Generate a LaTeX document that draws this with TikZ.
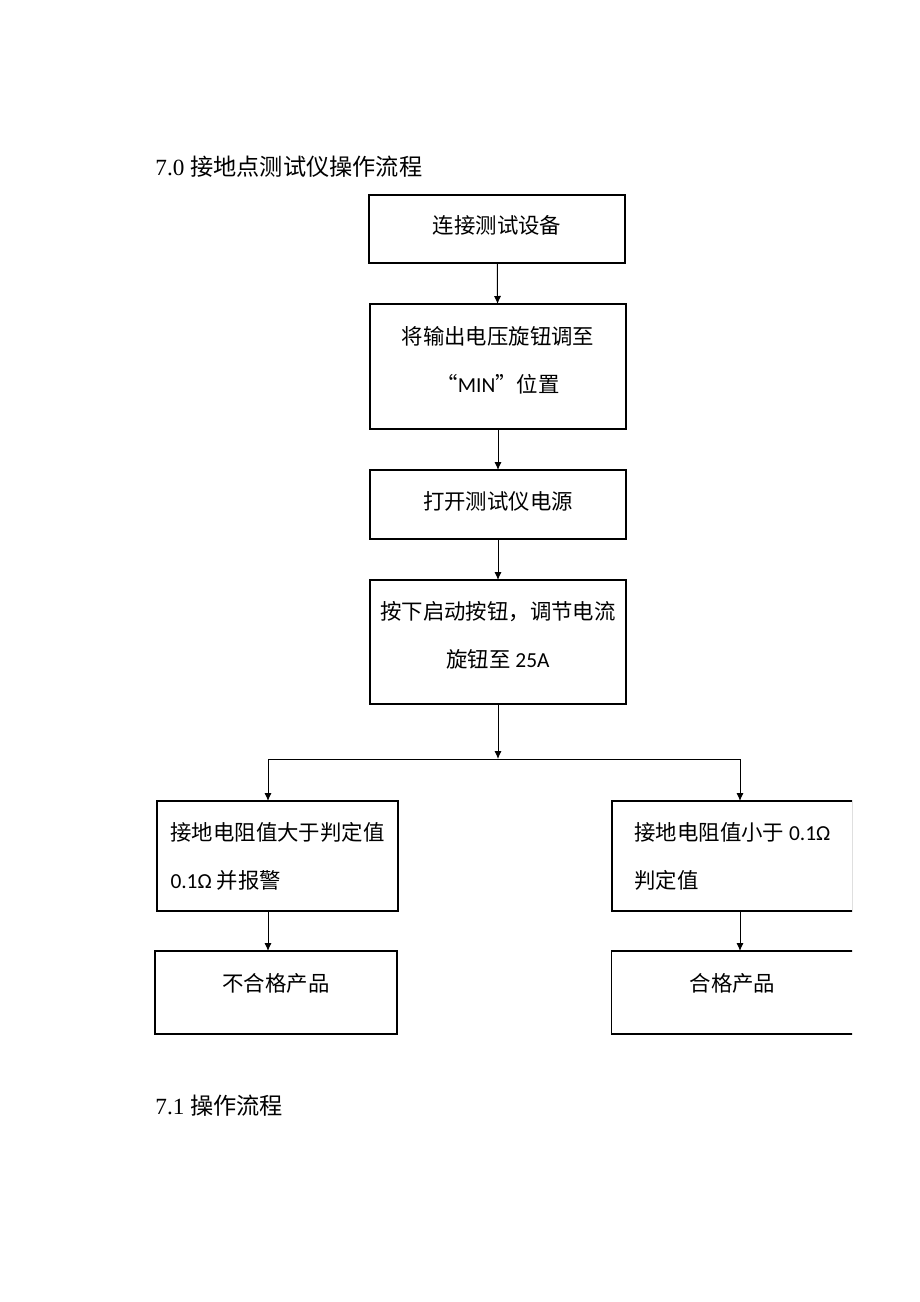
\documentclass[tikz,border=0pt]{standalone}
\usepackage{fontspec}
\setmainfont{Liberation Serif}
\newfontfamily\cjk{Noto Sans CJK SC}
\newfontfamily\lat{Carlito}
\usetikzlibrary{arrows.meta, positioning}

\begin{document}
\begin{tikzpicture}[x=0.5pt, y=-0.5pt,
        box/.style={draw, line width=0.6pt, inner sep=0pt, outer sep=0pt,
            font=\cjk\fontsize{10.7}{24}\selectfont},
        flow/.style={-{Latex[length=4pt, width=3.6pt]}, line width=0.5pt},
        heading/.style={anchor=west, inner sep=0pt,
            font=\fontsize{11.6}{14}\selectfont}]
        \useasboundingbox (0, 0) rectangle (920, 1302);
        \node[heading] (title) at (155, 167) {7.0 {\cjk 接地点测试仪操作流程}};
        % main column
        \node[box, minimum width=128pt, minimum height=34pt,
            text height=8pt, text depth=3.5pt] (connect)
            at (497, 229) {连接测试设备};
        \node[box, minimum width=128pt, minimum height=62.5pt, align=center,
            text depth=7.5pt] (knob)
            at (498, 366.5) {将输出电压旋钮调至\\“{\lat MIN}”位置};
        \node[box, minimum width=128pt, minimum height=34.5pt,
            text height=8pt, text depth=3.5pt] (power)
            at (498, 504.5) {打开测试仪电源};
        \node[box, minimum width=128pt, minimum height=62pt, align=center,
            text depth=7.5pt] (start)
            at (498, 642) {按下启动按钮，调节电流\\旋钮至 {\lat 25A}};
        \draw[flow] (connect) -- (knob);
        \draw[flow] (knob) -- (power);
        \draw[flow] (power) -- (start);
        % split
        \coordinate (split) at (498, 759);
        \coordinate (lj) at (268, 759);
        \coordinate (rj) at (740, 759);
        \draw[flow] (start) -- (split);
        \draw[line width=0.5pt] (lj) -- (rj);
        % left branch
        \node[box, minimum width=120.5pt, minimum height=55pt, align=left] (fail)
            at (277.5, 856) {接地电阻值大于判定值\\{\lat 0.1Ω} 并报警};
        \node[box, minimum width=121pt, minimum height=41.5pt,
            text height=8pt, text depth=9pt] (reject)
            at (276, 992.5) {不合格产品};
        \draw[flow] (lj) -- (lj |- fail.north);
        \draw[flow] (lj |- fail.south) -- (lj |- reject.north);
        % right branch, cut off at the page edge
        \begin{scope}
            \clip (0, 0) rectangle (852, 1302);
            \node[box, minimum width=120.5pt, minimum height=55pt, align=left] (pass)
                at (732.5, 856) {接地电阻值小于 {\lat 0.1Ω}\\判定值};
            \node[box, minimum width=121pt, minimum height=41.5pt,
                text height=8pt, text depth=9pt] (accept)
                at (732.5, 992.5) {合格产品};
        \end{scope}
        \draw[flow] (rj) -- (rj |- pass.north);
        \draw[flow] (rj |- pass.south) -- (rj |- accept.north);
        \node[heading] (next) at (155, 1106) {7.1 {\cjk 操作流程}};
    \end{tikzpicture}
\end{document}
